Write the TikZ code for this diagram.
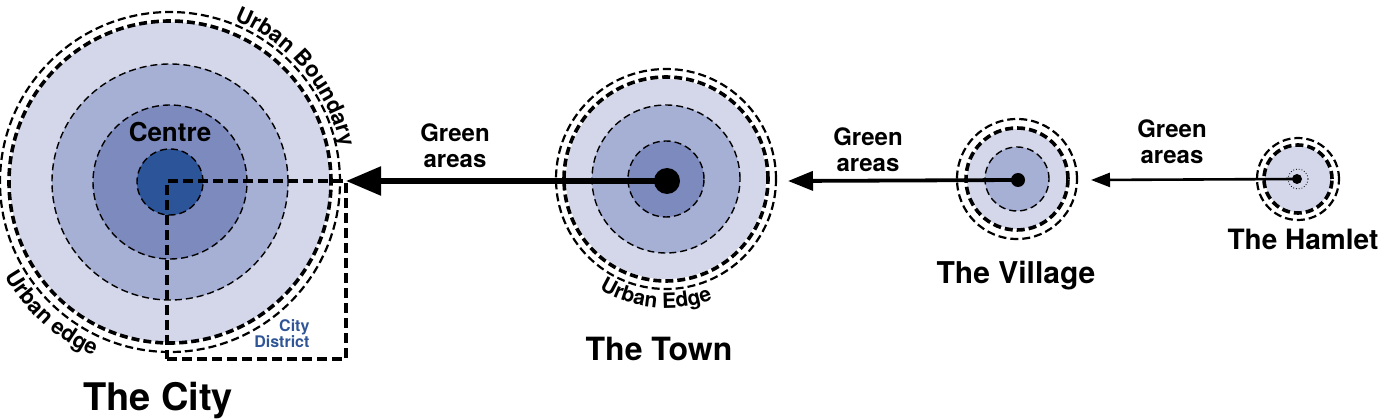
\documentclass[tikz,border=0pt]{standalone}
\usepackage{fontspec}
\setmainfont{TeX Gyre Heros}
\usetikzlibrary{
    arrows.meta,
    decorations.text,
    positioning
}

\definecolor{zoneA}{RGB}{211,215,233}
\definecolor{zoneB}{RGB}{166,175,212}
\definecolor{zoneC}{RGB}{125,138,190}
\definecolor{zoneD}{RGB}{44,84,152}
\definecolor{distblue}{RGB}{47,85,151}

\tikzset{
    fine/.style={line width=1.4pt, dash pattern=on 7pt off 4pt},
    ringin/.style={line width=3.6pt, dash pattern=on 8pt off 4pt},
    ringout/.style={line width=2.2pt, dash pattern=on 8pt off 4pt},
    dot/.style={circle, fill=black, inner sep=0pt},
    lbl/.style={font=\bfseries\fontsize{24}{26}\selectfont, align=center, anchor=base},
    title/.style={font=\bfseries\fontsize{#1}{#1}\selectfont, anchor=base},
    curved/.style={decorate, decoration={text along path, text align=center, text={#1}}}
}

\begin{document}
\begin{tikzpicture}[x=1pt,y=-1pt]
\useasboundingbox (0,0) rectangle (1382,419);

% Centres
\coordinate (city) at (170,182);
\coordinate (town) at (666,179);
\coordinate (village) at (1017,179);
\coordinate (hamlet) at (1298,179);

% The City
\fill[zoneA] (city) circle[radius=160pt];
\draw[ringin] (city) circle[radius=161pt];
\draw[ringout] (city) circle[radius=170pt];
\foreach \r/\c in {118/zoneB,77/zoneC,33/zoneD}
    \filldraw[fill=\c, fine] (city) circle[radius=\r pt];

\node[font=\bfseries\fontsize{26}{26}\selectfont, anchor=base] (centre) at (170,142) {Centre};

% City District
\node[draw, line width=4pt, dash pattern=on 10pt off 5pt, inner sep=0pt, outer sep=0pt,
      minimum width=179pt, minimum height=178pt, anchor=north west] (district) at (167,181) {};
\node[text=distblue, font=\bfseries\fontsize{16}{16}\selectfont, align=right, anchor=base east]
    (distlbl) at (313,348) {City\\District};

\path[curved={|\bfseries\fontsize{22}{22}\selectfont|Urban Boundary}]
    ([shift={(74:174pt)}]city) arc[start angle=74, end angle=6, radius=174pt];
\path[curved={|\bfseries\fontsize{22}{22}\selectfont|Urban edge}]
    ([shift={(198:190pt)}]city) arc[start angle=198, end angle=258, radius=190pt];

% The Town
\fill[zoneA] (town) circle[radius=100pt];
\draw[ringin] (town) circle[radius=102pt];
\draw[ringout] (town) circle[radius=110pt];
\foreach \r/\c in {74/zoneB,38/zoneC}
    \filldraw[fill=\c, fine] (town) circle[radius=\r pt];
\node[dot, minimum size=26pt] (towndot) at (667,181) {};

\path[curved={|\bfseries\fontsize{21}{21}\selectfont|Urban Edge}]
    ([shift={(228:129pt)}]town) arc[start angle=228, end angle=302, radius=129pt];

% The Village
\fill[zoneA] (village) circle[radius=50pt];
\draw[ringin] (village) circle[radius=51pt];
\draw[ringout] (village) circle[radius=60pt];
\filldraw[fill=zoneB, fine] (village) circle[radius=32pt];
\node[dot, minimum size=14pt] (vildot) at (1018,180) {};

% The Hamlet
\fill[zoneA] (hamlet) circle[radius=33pt];
\draw[ringin] (hamlet) circle[radius=34pt];
\draw[ringout] (hamlet) circle[radius=41pt];
\draw[dotted, line width=0.8pt] (hamlet) circle[radius=10pt];
\node[dot, minimum size=10pt] (hamdot) at (1297,179) {};

% Arrows
\coordinate (towntip) at (788,181);
\coordinate (viltip) at (1091,180);
\draw[line width=5.5pt, -{Triangle[length=35pt,width=28pt]}] (towndot.center) -- (district.north east);
\draw[line width=3.8pt, -{Triangle[length=25pt,width=19pt]}] (vildot.center) -- (towntip);
\draw[line width=2.6pt, -{Triangle[length=19pt,width=14pt]}] (hamdot.center) -- (viltip);

% Green areas
\node[lbl] (green1) at (455,168) {Green\\areas};
\node[lbl] (green2) at (868,172) {Green\\areas};
\node[lbl] (green3) at (1172,164) {Green\\areas};

% Titles
\node[title=38] (citytitle) at (158,411) {The City};
\node[title=32] (towntitle) at (659,361) {The Town};
\node[title=30] (viltitle) at (1016,284) {The Village};
\node[title=28] (hamtitle) at (1303,250) {The Hamlet};

\end{tikzpicture}
\end{document}
